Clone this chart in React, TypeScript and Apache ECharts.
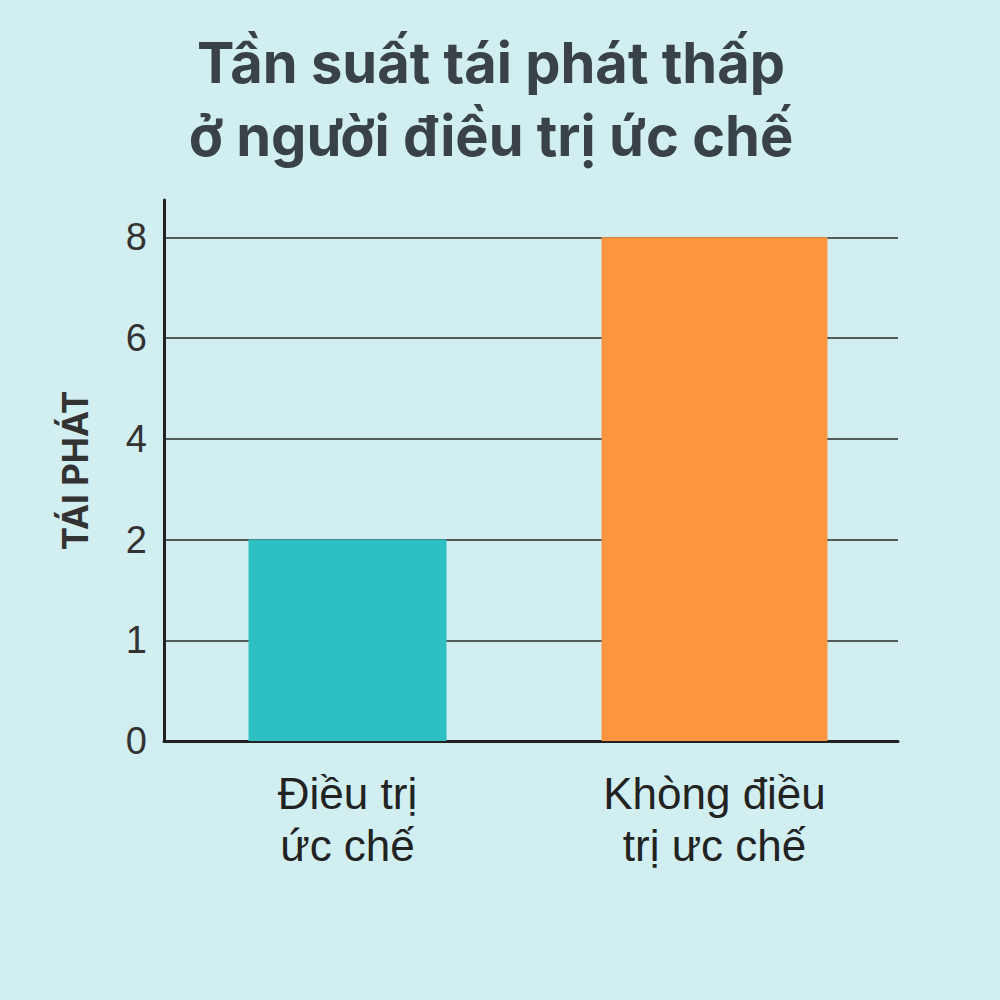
import { useEffect, useRef } from "react";
import * as echarts from "echarts";

const titleLines = ["Tần suất tái phát thấp", "ở người điều trị ức chế"];
const categories = ["Điều trị\nức chế", "Khòng điều\ntrị ưc chế"];
const relapseValues = [2, 8];
const tickLabels = ["0", "1", "2", "4", "6", "8"];
const yAxisName = "TÁI PHÁT";
const barColors = ["#2ebfc2", "#fb953f"];

// the axis is uneven (0,1,2,4,6,8 at equal steps), so place values by tick index
const toPos = (v: number) => tickLabels.indexOf(String(v));

export default function App() {
  const ref = useRef<HTMLDivElement | null>(null);

  useEffect(() => {
    if (!ref.current) return;
    const chart = echarts.init(ref.current, undefined, { renderer: "svg" });
    const pos = relapseValues.map(toPos);

    chart.setOption({
      animation: false,
      backgroundColor: "#d1eef0",
      title: {
        text: titleLines.join("\n"),
        left: 486,
        top: 21,
        textAlign: "center",
        textStyle: {
          fontFamily: "Inter",
          fontSize: 56,
          fontWeight: "bold",
          color: "#394246",
          lineHeight: 73
        }
      },
      grid: { left: 164, right: 102, top: 200, bottom: 259 },
      xAxis: [
        {
          type: "category",
          data: categories,
          axisLine: { lineStyle: { color: "#222", width: 3 } },
          axisTick: { show: false },
          axisLabel: {
            margin: 26,
            fontFamily: "Liberation Sans",
            fontSize: 44,
            lineHeight: 52,
            color: "#222"
          }
        },
        // second, hidden axis so each bar keeps its own width and stays centred
        {
          type: "category",
          data: categories,
          show: false
        }
      ],
      yAxis: {
        type: "value",
        min: 0,
        max: 5.37,
        interval: 1,
        name: yAxisName,
        nameLocation: "middle",
        nameGap: 72,
        nameRotate: 90,
        nameTextStyle: {
          fontFamily: "Inter",
          fontSize: 35,
          fontWeight: "bold",
          color: "#333"
        },
        axisLine: { show: true, lineStyle: { color: "#222", width: 3 } },
        axisTick: { show: false },
        axisLabel: {
          margin: 17,
          showMaxLabel: false,
          fontFamily: "Liberation Sans",
          fontSize: 38,
          color: "#333",
          formatter: (v: number) => (Number.isInteger(v) ? tickLabels[v] ?? "" : "")
        },
        splitLine: {
          showMaxLine: false,
          lineStyle: { color: "#2a2a2a", width: 1.5 }
        }
      },
      series: [
        {
          type: "bar",
          xAxisIndex: 0,
          barWidth: 198,
          itemStyle: { color: barColors[0] },
          data: [pos[0], "-"]
        },
        {
          type: "bar",
          xAxisIndex: 1,
          barWidth: 226,
          itemStyle: { color: barColors[1] },
          data: ["-", pos[1]]
        }
      ]
    });

    return () => chart.dispose();
  }, []);

  return (
    <div
      ref={ref}
      style={{ position: "fixed", left: 0, top: 0, width: 1000, height: 1000 }}
    />
  );
}
